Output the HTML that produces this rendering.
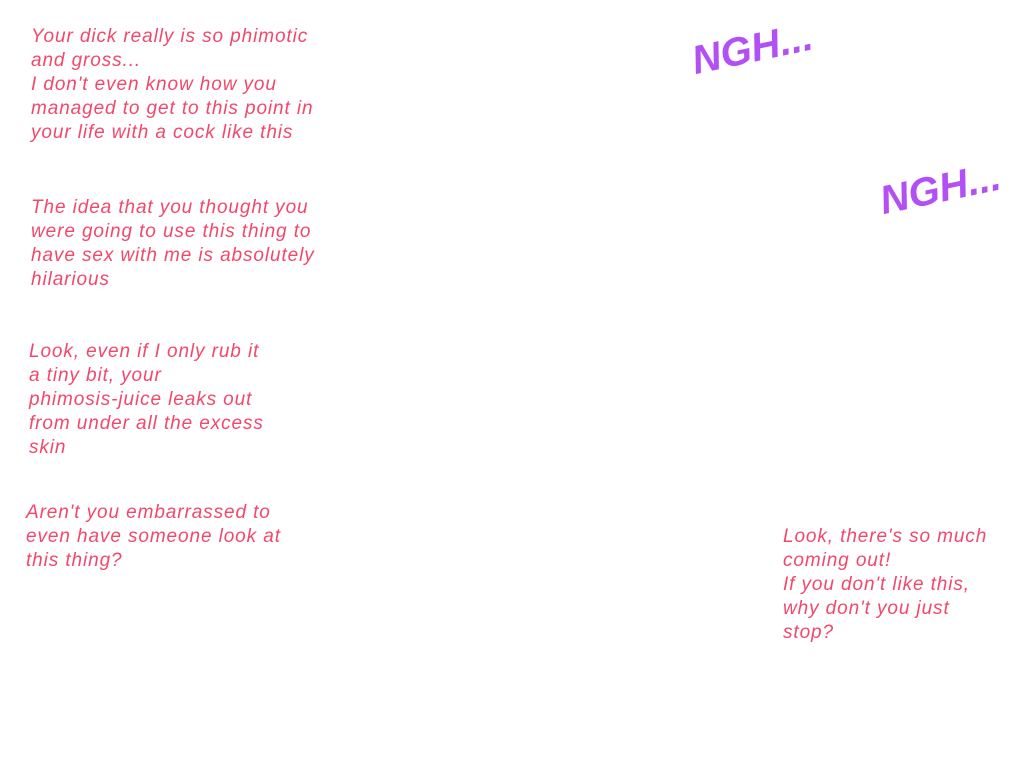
<!DOCTYPE html>
<html><head><meta charset="utf-8"><style>
html,body{margin:0;padding:0;background:#fff;width:1024px;height:768px;overflow:hidden;position:relative}
.t{position:absolute;font-family:"Liberation Sans",sans-serif;font-style:italic;font-size:19px;line-height:24px;color:#f2486c;white-space:pre;letter-spacing:0.9px}
.n{position:absolute;font-family:"Liberation Sans",sans-serif;font-weight:bold;font-style:italic;font-size:40px;color:#b350f5;transform:rotate(-12deg);transform-origin:left top;letter-spacing:0px}
</style></head><body>
<div class="t" style="left:31px;top:25px">Your dick really is so phimotic
and gross...
I don't even know how you
managed to get to this point in
your life with a cock like this</div>
<div class="t" style="left:31px;top:196px">The idea that you thought you
were going to use this thing to
have sex with me is absolutely
hilarious</div>
<div class="t" style="left:29px;top:340px">Look, even if I only rub it
a tiny bit, your
phimosis-juice leaks out
from under all the excess
skin</div>
<div class="t" style="left:26px;top:501px">Aren't you embarrassed to
even have someone look at
this thing?</div>
<div class="t" style="left:783px;top:525px">Look, there's so much
coming out!
If you don't like this,
why don't you just
stop?</div>
<div class="n" style="left:688px;top:40px">NGH...</div>
<div class="n" style="left:876px;top:180px">NGH...</div>
</body></html>
